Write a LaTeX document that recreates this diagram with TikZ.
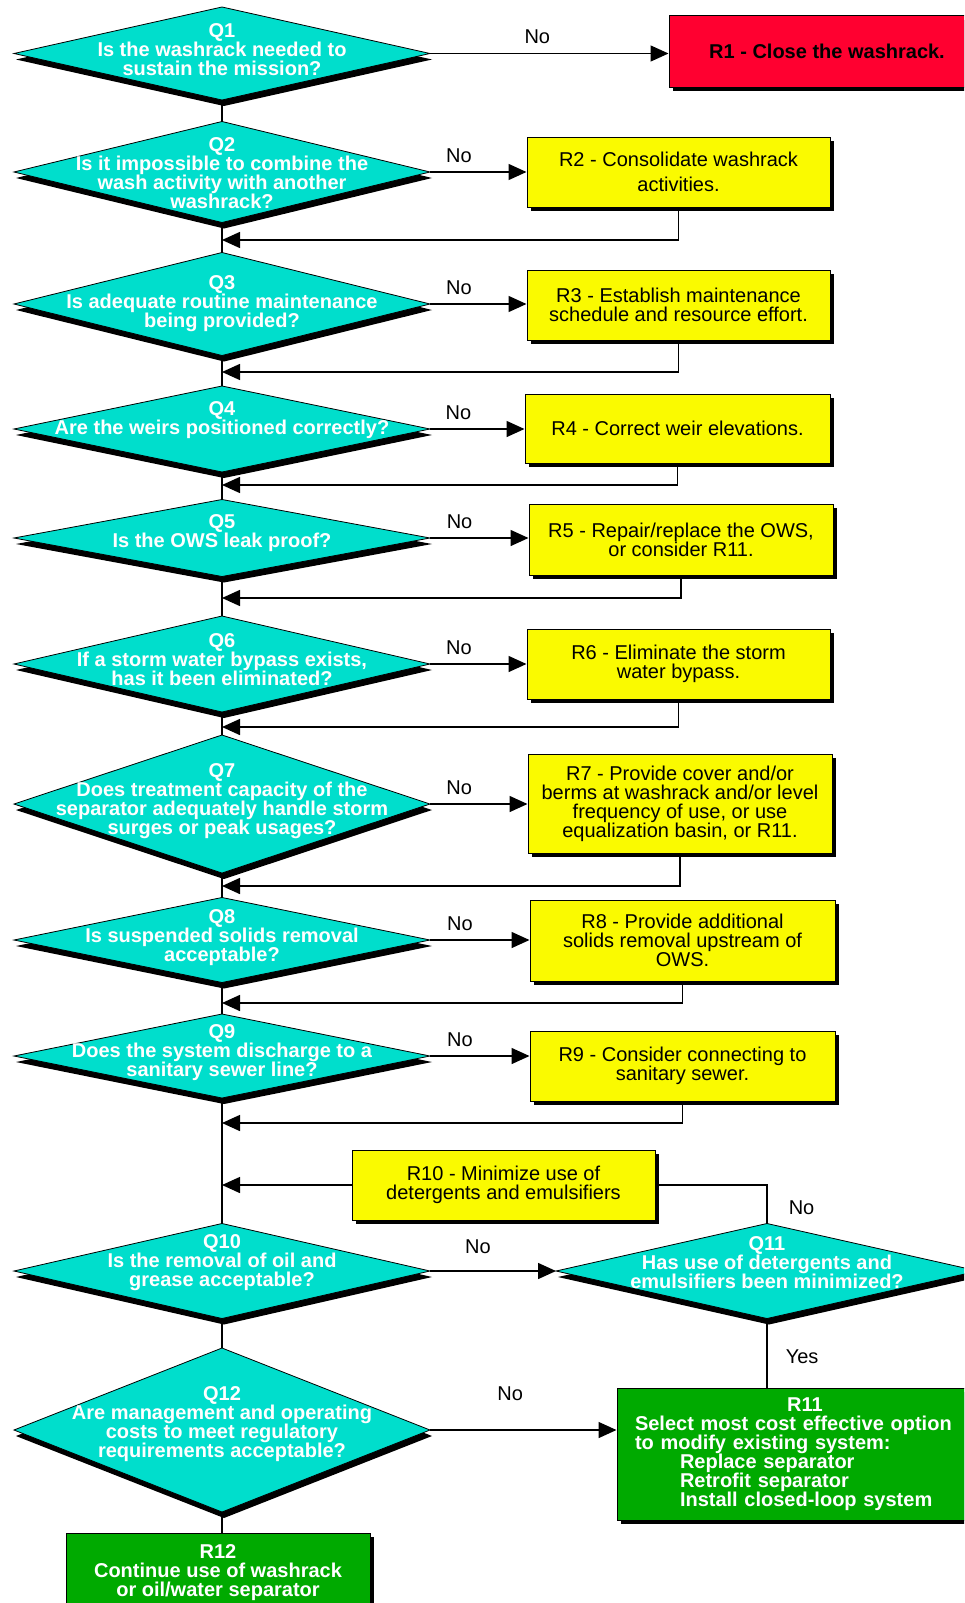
\documentclass[tikz,border=0pt]{standalone}
\usepackage{fontspec}
\setmainfont{Liberation Sans}
\usetikzlibrary{shapes.geometric,shadows,arrows.meta}
\definecolor{Qcyan}{RGB}{0,222,204}
\definecolor{Ryellow}{RGB}{250,250,0}
\definecolor{Rred}{RGB}{255,0,48}
\definecolor{Rgreen}{RGB}{0,170,0}
\newcommand{\txt}{\fontsize{20}{19}\selectfont}
\tikzset{
  question/.style={shape=diamond, draw=black, line width=.8pt, fill=Qcyan, minimum width=416, inner sep=0, outer sep=0,
    drop shadow={shadow xshift=2pt, shadow yshift=-6pt, fill=black, opacity=1}},
  qtext/.style={font=\txt\bfseries, text=white, align=center, inner sep=0},
  answer/.style={rectangle, draw=black, line width=1pt, fill=Ryellow, font=\txt, align=center,
    drop shadow={shadow xshift=4pt, shadow yshift=-4pt, fill=black, opacity=1}},
  closebox/.style={answer, fill=Rred, font=\txt\bfseries},
  keepbox/.style={answer, fill=Rgreen, text=white, font=\txt\bfseries},
  nolabel/.style={font=\txt, inner sep=1pt},
  link/.style={line width=1.5pt},
  flow/.style={link, -{Triangle[length=18pt, width=16pt]}}
}
\newcommand{\question}[7][]{
  \node[question, minimum height=#5, #1] (#2) at (#3,#4) {};
  \node[qtext] (#2t) at (#3,{#4+#6}) {#7};
}
\newcommand{\solution}[7]{\node[#1, minimum width=#5, minimum height=#6] (#2) at (#3,#4) {#7};}

\begin{document}
\begin{tikzpicture}[x=1pt,y=-1pt]
\useasboundingbox (0,0) rectangle (964,1603);
\clip (0,0) rectangle (964,1603);
\question{q1}{222}{53.5}{93}{-4}{Q1\\Is the washrack needed to\\sustain the mission?}
\question{q2}{222}{172}{101}{1}{Q2\\Is it impossible to combine the\\wash activity with another\\washrack?}
\question{q3}{222}{304}{103}{0}{Q3\\Is adequate routine maintenance\\being provided?}
\question{q4}{222}{429}{86}{-9}{Q4\\Are the weirs positioned correctly?}
\question{q5}{222}{538}{77}{-5}{Q5\\Is the OWS leak proof?}
\question{q6}{222}{664}{96}{-4}{Q6\\If a storm water bypass exists,\\has it been eliminated?}
\question{q7}{222}{804}{138}{-3}{Q7\\Does treatment capacity of the\\separator adequately handle storm\\surges or peak usages?}
\question{q8}{222}{940}{85}{-2}{Q8\\Is suspended solids removal\\acceptable?}
\question{q9}{222}{1056}{84}{-3}{Q9\\Does the system discharge to a\\sanitary sewer line?}
\question{q10}{222}{1271}{95}{-8}{Q10\\Is the removal of oil and\\grease acceptable?}
\question[minimum width=422]{q11}{767}{1271}{95}{-8}{Q11\\Has use of detergents and\\emulsifiers been minimized?}
\question{q12}{222}{1430}{164}{-6}{Q12\\Are management and operating\\costs to meet regulatory\\requirements acceptable?}
\solution{closebox}{r1}{827}{51.5}{316}{71}{R1 - Close the washrack.}
\solution{answer}{r2}{678.5}{172}{303}{70}{R2 - Consolidate washrack\\[6pt]activities.}
\solution{answer}{r3}{678.5}{305}{303}{70}{R3 - Establish maintenance\\schedule and resource effort.}
\solution{answer}{r4}{677.5}{428.5}{305}{69}{R4 - Correct weir elevations.}
\solution{answer}{r5}{681}{539.5}{304}{71}{R5 - Repair/replace the OWS,\\or consider R11.}
\solution{answer}{r6}{678.5}{664}{303}{70}{R6 - Eliminate the storm\\water bypass.}
\solution{answer}{r7}{680}{803.5}{304}{99}{R7 - Provide cover and/or\\berms at washrack and/or level\\frequency of use, or use\\equalization basin, or R11.}
\solution{answer}{r8}{682.5}{940.5}{305}{81}{R8 - Provide additional\\solids removal upstream of\\OWS.}
\solution{answer}{r9}{682.5}{1066}{305}{70}{R9 - Consider connecting to\\sanitary sewer.}
\solution{answer}{r10}{503.5}{1185}{303}{70}{R10 - Minimize use of\\detergents and emulsifiers}
\solution{keepbox, text width=318, align=left}{r11}{794}{1454}{354}{132}{\makebox[\linewidth]{\hspace{22pt}R11}\\Select most cost effective option\\to modify existing system:\\\hspace*{45pt}Replace separator\\\hspace*{45pt}Retrofit separator\\\hspace*{45pt}Install closed-loop system}
\solution{keepbox}{r12}{218}{1572.5}{304}{79}{R12\\Continue use of washrack\\or oil/water separator}
\foreach \a/\b in {q1/q2,q2/q3,q3/q4,q4/q5,q5/q6,q6/q7,q7/q8,q8/q9,q9/q10,q10/q12}
  \draw[link] (\a.south) -- (\b.north);
\draw[flow] (q1.east) -- (q1.east -| r1.west) node[nolabel, pos=.45, above=8pt] {No};
\foreach \n in {2,...,9}
  \draw[flow] (q\n.east) -- (q\n.east -| r\n.west) node[nolabel, pos=.3, above=8pt] {No};
\foreach \n/\y in {2/240,3/372,4/485,5/598,6/727,7/886,8/1003,9/1123}{
  \coordinate (j\n) at (222,\y);
  \draw[flow] (r\n.south) |- (j\n);
}
\coordinate (j10) at (222,1185);
\draw[flow] (r10.west) -- (j10);
\draw[link] (q11.north) |- (r10.east) node[nolabel, pos=.2, right=20pt] {No};
\draw[flow] (q10.east) -- (q11.west) node[nolabel, pos=.38, above=16pt] {No};
\draw[link] (q11.south) -- (q11.south |- r11.north) node[nolabel, pos=.56, right=17pt] {Yes};
\draw[flow] (q12.east) -- (q12.east -| r11.west) node[nolabel, pos=.43, above=28pt] {No};
\draw[link] (q12.south) -- (q12.south |- r12.north);
\end{tikzpicture}
\end{document}
